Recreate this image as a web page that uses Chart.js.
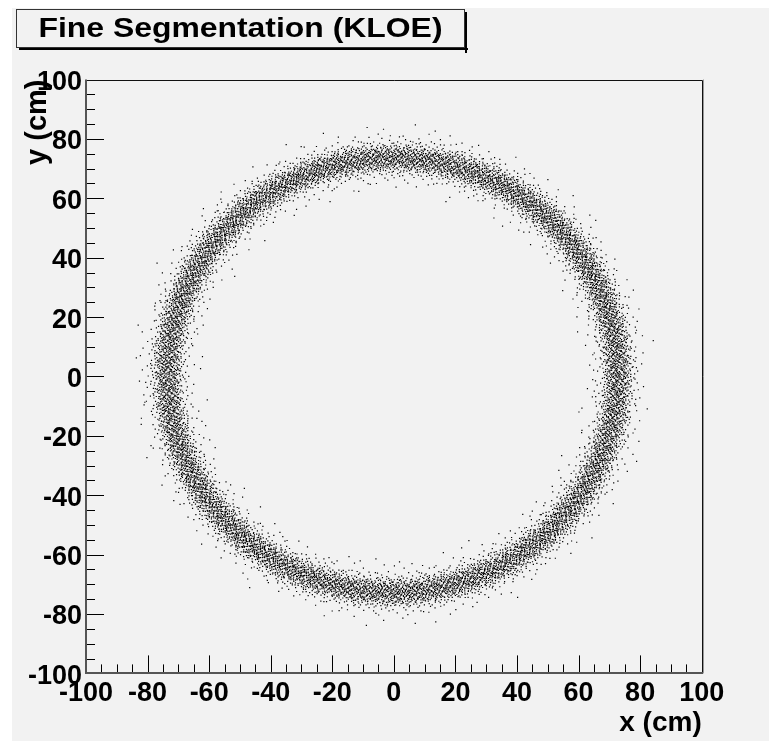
<!DOCTYPE html>
<html>
<head>
<meta charset="utf-8">
<title>Fine Segmentation (KLOE)</title>
<script src="https://cdn.jsdelivr.net/npm/chart.js@4.4.1/dist/chart.umd.min.js"></script>
<style>
  html, body { margin: 0; padding: 0; background: #fff; }
  canvas { display: block; }
</style>
</head>
<body>
<canvas id="ringChart" width="769" height="741"></canvas>
<script>
// Axis range and tick labels (cm)
const axisMin = -100;
const axisMax = 100;
const tickLabels = [-100, -80, -60, -40, -20, 0, 20, 40, 60, 80, 100];
const minorStep = 5;

// Ring geometry (cm)
const ringCenter = [-0.4, 0.4];
const ringRadius = 73.2;

// Radial profile of the hits: bin centre (cm from ring radius) and entries per bin
const radialOffsets = [-12, -11, -10, -9, -8, -7, -6, -5, -4, -3, -2, -1, 0, 1, 2, 3, 4, 5, 6, 7, 8, 9, 10, 11, 12];
const radialCounts  = [8, 14, 22, 35, 55, 90, 160, 300, 600, 1000, 1350, 1550, 1600, 1550, 1350, 1000, 600, 300, 160, 90, 55, 35, 22, 14, 8];
const binWidth = 1;

const FONT = '"Liberation Sans", Arial, Helvetica, sans-serif';
const BG = '#f2f2f2';

function halton(i, base) {
    let f = 1, r = 0;
    while (i > 0) {
        f /= base;
        r += f * (i % base);
        i = Math.floor(i / base);
    }
    return r;
}

// Scatter-draw the radial histogram around the ring: angle and position inside
// the profile follow a Halton sequence, the profile itself comes from radialCounts
function buildHits() {
    const total = radialCounts.reduce((a, b) => a + b, 0);
    const cum = [];
    radialCounts.reduce((acc, c, i) => (cum[i] = acc + c), 0);
    const pts = [];
    for (let i = 1; i <= total; i++) {
        const phi = 2 * Math.PI * halton(i, 2);
        const t = halton(i, 3) * total;
        let b = 0;
        while (cum[b] <= t) b++;
        const prev = b ? cum[b - 1] : 0;
        const frac = (t - prev) / radialCounts[b];
        const r = ringRadius + radialOffsets[b] + (frac - 0.5) * binWidth;
        pts.push({ x: ringCenter[0] + r * Math.cos(phi), y: ringCenter[1] + r * Math.sin(phi) });
    }
    return pts;
}

const backgroundPlugin = {
    id: 'padBackground',
    beforeDraw(chart) {
        const ctx = chart.ctx;
        ctx.save();
        ctx.fillStyle = '#fff';
        ctx.fillRect(0, 0, chart.width, chart.height);
        ctx.fillStyle = BG;
        ctx.fillRect(12, 8, chart.width - 12, chart.height - 8);
        ctx.restore();
    }
};

// Frame and inward ticks, ROOT style
const framePlugin = {
    id: 'frameTicks',
    afterDatasetsDraw(chart) {
        const { ctx, chartArea: a } = chart;
        const xs = chart.scales.x, ys = chart.scales.y;
        ctx.save();
        ctx.strokeStyle = '#000';
        ctx.lineWidth = 1;
        ctx.beginPath();
        for (let v = axisMin; v <= axisMax; v += minorStep) {
            const len = tickLabels.includes(v) ? 18 : 9;
            const px = Math.round(xs.getPixelForValue(v)) + 0.5;
            ctx.moveTo(px, a.bottom);
            ctx.lineTo(px, a.bottom - len);
            const py = Math.round(ys.getPixelForValue(v)) + 0.5;
            ctx.moveTo(a.left, py);
            ctx.lineTo(a.left + len, py);
        }
        ctx.stroke();

        // top and right edges
        ctx.strokeStyle = '#111';
        ctx.beginPath();
        ctx.moveTo(a.left, Math.round(a.top) + 0.5);
        ctx.lineTo(Math.round(a.right) + 0.5, Math.round(a.top) + 0.5);
        ctx.lineTo(Math.round(a.right) + 0.5, a.bottom);
        ctx.stroke();
        ctx.strokeStyle = '#999';
        ctx.beginPath();
        ctx.moveTo(Math.round(a.right) + 1.5, a.top);
        ctx.lineTo(Math.round(a.right) + 1.5, a.bottom);
        ctx.stroke();

        // axis lines
        ctx.strokeStyle = '#555';
        ctx.lineWidth = 2;
        ctx.beginPath();
        ctx.moveTo(Math.round(a.left), a.top);
        ctx.lineTo(Math.round(a.left), Math.round(a.bottom));
        ctx.lineTo(Math.round(a.right) + 1, Math.round(a.bottom));
        ctx.stroke();
        ctx.restore();
    }
};

// Title in a box with a drop shadow
const titleBoxPlugin = {
    id: 'titleBox',
    afterDraw(chart) {
        const ctx = chart.ctx;
        const x0 = 16, y0 = 9, w = 449, h = 39;
        ctx.save();
        ctx.fillStyle = '#000';
        ctx.fillRect(x0 + 3, y0 + h, w, 2);
        ctx.fillRect(x0 + w, y0 + 3, 2, h + 2);
        ctx.fillStyle = BG;
        ctx.fillRect(x0, y0, w, h);
        ctx.strokeStyle = '#333';
        ctx.lineWidth = 1;
        ctx.strokeRect(x0 + 0.5, y0 + 0.5, w - 1, h - 1);

        const text = 'Fine Segmentation (KLOE)';
        ctx.font = 'bold 27px ' + FONT;
        ctx.fillStyle = '#000';
        ctx.textAlign = 'center';
        ctx.textBaseline = 'alphabetic';
        const tw = ctx.measureText(text).width;
        const sx = 404 / tw;
        ctx.translate(x0 + w / 2, y0 + 28);
        ctx.scale(sx, 1);
        ctx.fillText(text, 0, 0);
        ctx.restore();
    }
};

const tickFont = { family: FONT, size: 27, weight: 'bold' };
const titleFont = { family: FONT, size: 28, weight: 'bold' };

new Chart(document.getElementById('ringChart'), {
    type: 'scatter',
    data: {
        datasets: [{
            label: 'hits',
            data: buildHits(),
            pointStyle: 'rect',
            pointRadius: 0.85,
            pointHoverRadius: 0,
            borderWidth: 0,
            backgroundColor: '#000'
        }]
    },
    options: {
        responsive: false,
        animation: false,
        events: [],
        layout: { padding: { top: 79.5, right: 67.3, bottom: 0, left: 0 } },
        plugins: {
            legend: { display: false },
            tooltip: { enabled: false },
            title: { display: false }
        },
        scales: {
            x: {
                type: 'linear',
                min: axisMin,
                max: axisMax,
                grid: { display: false, drawTicks: false },
                border: { display: false },
                afterBuildTicks: s => { s.ticks = tickLabels.map(v => ({ value: v })); },
                afterFit: s => { s.height = 67.6; },
                ticks: {
                    autoSkip: false,
                    maxRotation: 0,
                    padding: 4,
                    color: '#000',
                    font: tickFont
                },
                title: {
                    display: true,
                    text: 'x (cm)',
                    align: 'end',
                    color: '#000',
                    font: titleFont,
                    padding: { top: 0, bottom: 1 }
                }
            },
            y: {
                type: 'linear',
                min: axisMin,
                max: axisMax,
                grid: { display: false, drawTicks: false },
                border: { display: false },
                afterBuildTicks: s => { s.ticks = tickLabels.map(v => ({ value: v })); },
                afterFit: s => { s.width = 86; },
                ticks: {
                    autoSkip: false,
                    padding: 4,
                    labelOffset: 3,
                    color: '#000',
                    font: tickFont
                },
                title: {
                    display: true,
                    text: 'y (cm)',
                    align: 'end',
                    color: '#000',
                    font: { family: FONT, size: 29, weight: 'bold' },
                    padding: { top: 21, bottom: 0 }
                }
            }
        }
    },
    plugins: [backgroundPlugin, framePlugin, titleBoxPlugin]
});
</script>
</body>
</html>
